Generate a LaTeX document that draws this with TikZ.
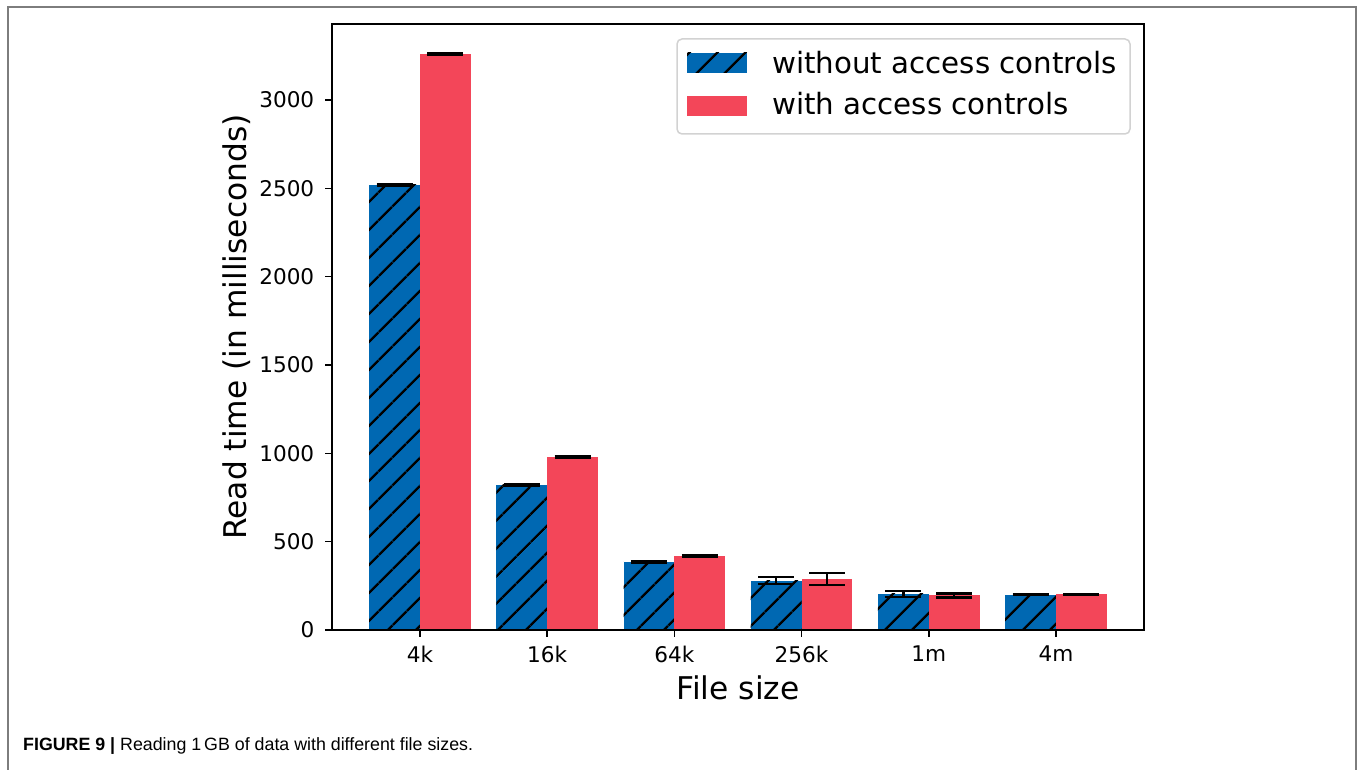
\documentclass[tikz,border=0pt]{standalone}
\usepackage{fontspec}
\setmainfont{DejaVu Sans}
\newfontfamily\captionfont{Liberation Sans}
\usetikzlibrary{patterns.meta}

\definecolor{barblue}{RGB}{0,104,178}
\definecolor{barred}{RGB}{243,70,89}
\definecolor{framegray}{RGB}{125,125,125}
\definecolor{legendedge}{RGB}{210,210,210}

\tikzset{
    x=1pt,
    y=1pt,
    spine/.style={draw=black, line width=1.6pt},
    tickmark/.style={draw=black, line width=1.5pt},
    ticklabel/.style={font=\fontsize{21.6}{26}\selectfont, inner sep=0pt},
    axislabel/.style={font=\fontsize{31.3}{36}\selectfont, inner sep=0pt},
    legendtext/.style={font=\fontsize{29.3}{34}\selectfont, inner sep=0pt, anchor=base west},
    hatched/.style={
        postaction={
            pattern={Lines[angle=45, distance=19.5pt, line width=2.4pt]},
            pattern color=black
        }
    },
    plainbar/.style={fill=barblue, hatched},
    aclbar/.style={fill=barred},
    errbar/.style={draw=black, line width=2.4pt},
    legendbox/.style={draw=legendedge, line width=1.5pt, fill=white, rounded corners=5pt},
    captiontext/.style={font=\captionfont\fontsize{17.8}{21}\selectfont, inner sep=0pt, anchor=base west}
}

\begin{document}
\begin{tikzpicture}
\useasboundingbox (0,0) rectangle (1360,770);

% Page frame
\draw[framegray, line width=1.5pt] (8,-2) -- (8,763) -- (1356,763) -- (1356,-2);

% Plot area in data units: one category per unit, milliseconds upward
\begin{scope}[shift={(420,140)}, x=127.2pt, y=0.17667pt]

    % Bars with their error bars
    \foreach \i/\lab/\vb/\eb/\vr/\er in {0/4k/2520/3/3262/4, 1/16k/821/3/979/3,
        2/64k/385/3/420/3, 3/256k/280/20/288/33, 4/1m/205/17/196/11, 5/4m/200/3/202/3} {
        \path[plainbar] (\i-0.4,0) rectangle (\i,\vb);
        \path[aclbar] (\i,0) rectangle (\i+0.4,\vr);
        \draw[errbar] (\i-0.2,\vb-\eb) -- (\i-0.2,\vb+\eb);
        \draw[errbar] (\i+0.2,\vr-\er) -- (\i+0.2,\vr+\er);
        \draw[errbar] (\i-0.2,\vb-\eb) ++(-18pt,0) -- ++(36pt,0);
        \draw[errbar] (\i-0.2,\vb+\eb) ++(-18pt,0) -- ++(36pt,0);
        \draw[errbar] (\i+0.2,\vr-\er) ++(-18pt,0) -- ++(36pt,0);
        \draw[errbar] (\i+0.2,\vr+\er) ++(-18pt,0) -- ++(36pt,0);
        % x ticks
        \draw[tickmark] (\i,0) -- ++(0,-7pt) node[ticklabel, anchor=north, yshift=-8pt] (xtick\i) {\lab};
    }

    % y ticks
    \foreach \v in {0,500,...,3000} {
        \draw[tickmark] (-0.6918,\v) -- ++(-7pt,0) node[ticklabel, anchor=east, xshift=-10pt] (ytick\v) {\v};
    }

    % Axes frame
    \draw[spine] (-0.6918,0) rectangle (5.6918,3430);
\end{scope}

% Axis titles
\node[axislabel, anchor=base] (xtitle) at (738,70) {File size};
\node[axislabel, anchor=base, rotate=90] (ytitle) at (246,443) {Read time (in milliseconds)};

% Legend
\path[legendbox] (677,636) rectangle (1130,731);
\path[plainbar] (687,697) rectangle (747,717);
\path[aclbar] (687,654) rectangle (747,674);
\node[legendtext] (keyplain) at (772,696) {without access controls};
\node[legendtext] (keyacl) at (772,655) {with access controls};

% Caption
\node[captiontext] (caption) at (23,19) {\textbf{FIGURE 9 |} Reading 1\,GB of data with different file sizes.};

\end{tikzpicture}
\end{document}
